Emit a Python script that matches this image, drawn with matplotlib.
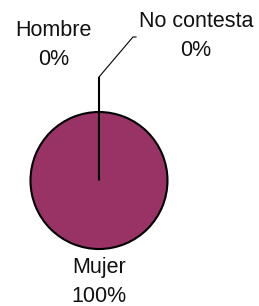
import matplotlib
matplotlib.use("Agg")
import matplotlib.pyplot as plt

# Data
labels = ["Hombre", "Mujer", "No contesta"]
values = [0, 100, 0]
colors = ["#333399", "#993366", "#FFFFCC"]

plt.rcParams['font.family'] = ['Liberation Sans', 'DejaVu Sans']

fig = plt.figure(figsize=(2.59, 3.06), dpi=100)
ax = fig.add_axes([0, 0, 1, 1])

ax.pie(values, colors=colors, startangle=90, counterclock=False, radius=1.0,
       wedgeprops=dict(edgecolor='black', linewidth=1.5))

ax.set_aspect('equal')
ax.set_xlim(-1.445, 2.336)
ax.set_ylim(-1.832, 2.635)
ax.axis('off')

total = sum(values)
pct = [f"{v / total * 100:.0f}%" for v in values]

# label positions (baseline of the percentage line)
pos = {"Hombre": (-0.664, 1.69), "Mujer": (0.0, -1.775), "No contesta": (1.416, 1.818)}
for lab, p in zip(labels, pct):
    x, y = pos[lab]
    ax.text(x, y, f"{lab}\n{p}", ha='center', va='baseline', fontsize=15.5,
            linespacing=1.5, color='#111111')

# leader line for "No contesta"
ax.plot([0, 0], [1.0, 1.511], color='black', lw=1.5, solid_capstyle='butt')
ax.plot([0, 0.496, 0.54], [1.511, 2.095, 2.095], color='black', lw=0.8)

fig.savefig("out.png", dpi=100)
